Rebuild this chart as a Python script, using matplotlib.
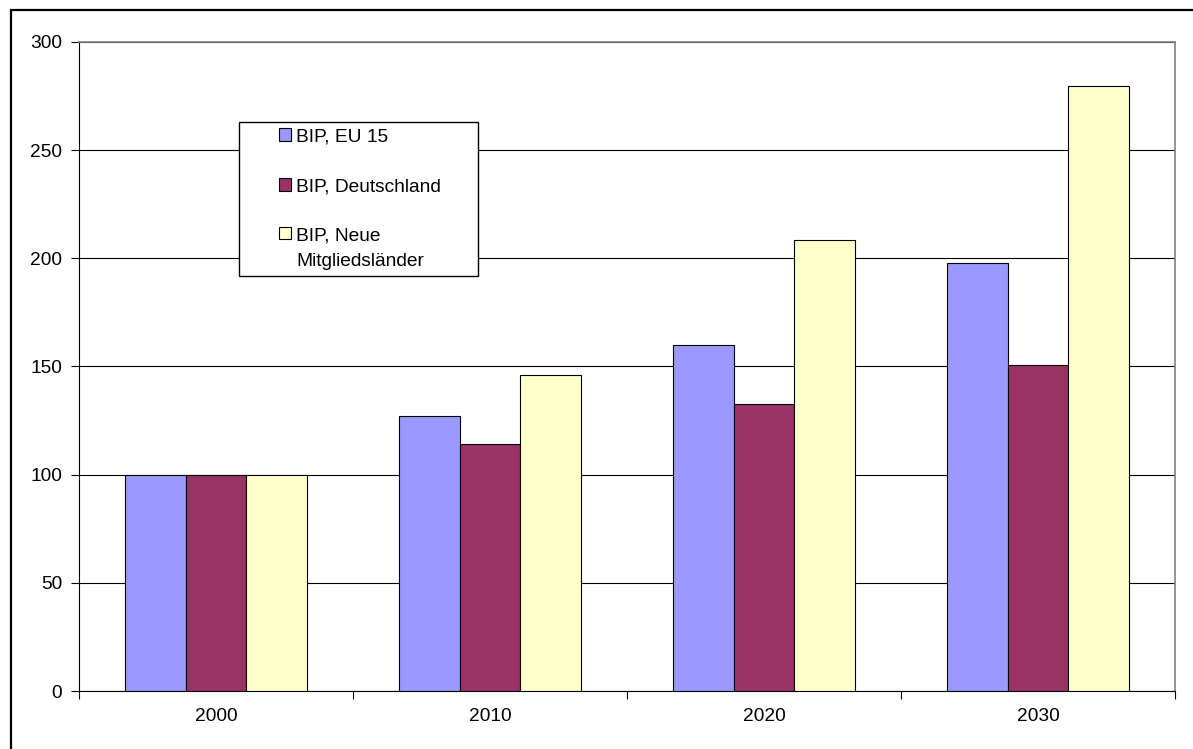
import numpy as np
import matplotlib
matplotlib.use("Agg")
import matplotlib.pyplot as plt
from matplotlib.patches import Rectangle
from matplotlib.legend_handler import HandlerPatch

plt.rcParams['font.family'] = ['Liberation Sans', 'DejaVu Sans']

years = ['2000', '2010', '2020', '2030']
series_names = ['BIP, EU 15', 'BIP, Deutschland', 'BIP, Neue\nMitgliedsländer']
eu15 = [100, 127, 160, 198]
deutschland = [100, 114, 132.5, 150.5]
neue = [100, 146, 208.5, 279.5]
colors = ['#9999FF', '#993366', '#FFFFCC']

FS = 13.8

fig = plt.figure(figsize=(11.93, 7.49), dpi=100)
ax = fig.add_axes([79 / 1193, 58 / 749, (1175 - 79) / 1193, (691 - 42) / 749])

x = np.arange(len(years))
w = 1 / 4.5
bars = []
for i, vals in enumerate([eu15, deutschland, neue]):
    b = ax.bar(x + (i - 1) * w, vals, w, color=colors[i], edgecolor='black',
               linewidth=0.8, zorder=3)
    bars.append(b)

ax.set_xlim(-0.5, len(years) - 0.5)
ax.set_ylim(0, 300)
ax.set_yticks(np.arange(0, 301, 50))
ax.yaxis.grid(True, color='black', linewidth=0.8, zorder=0)

# category boundaries as ticks, labels centred on categories
ax.set_xticks(np.arange(-0.5, len(years)), labels=[''] * (len(years) + 1))
ax.set_xticks(x, labels=years, minor=True)
ax.tick_params(axis='x', which='minor', length=0, pad=12, labelsize=FS)
ax.tick_params(axis='x', which='major', length=6, width=0.8, direction='out')
ax.tick_params(axis='y', length=6, width=0.8, direction='out', pad=6, labelsize=FS)

for s in ['top', 'right']:
    ax.spines[s].set_color('#808080')
    ax.spines[s].set_linewidth(1.2)
ax.spines['left'].set_color('black')
ax.spines['bottom'].set_color('black')


def small_square(legend, orig_handle, xdescent, ydescent, width, height, fontsize):
    s = 12.5 * 0.72
    y0 = -ydescent + (height - s) / 2
    if orig_handle is bars[2].patches[0]:
        y0 += 0.82 * fontsize  # marker sits next to the first line
    return Rectangle((width - xdescent - s, y0), s, s)


leg = ax.legend([b.patches[0] for b in bars], series_names, loc='upper left',
                bbox_to_anchor=(239 / 1193, 1 - 122 / 749 - 0.1, (478 - 239) / 1193, 0.1),
                bbox_transform=fig.transFigure, mode='expand', borderaxespad=0,
                fancybox=False, shadow=False, edgecolor='black', framealpha=1,
                fontsize=FS, labelspacing=1.7, handlelength=2.42, handleheight=0.7,
                handletextpad=0.25, borderpad=0.3,
                handler_map={Rectangle: HandlerPatch(patch_func=small_square)})
leg.get_frame().set_linewidth(1.0)
for t in leg.get_texts():
    t.set_linespacing(1.65)

# outer chart frame
fig.add_artist(Rectangle((11 / 1193, -0.1), 1.2, 1.1 - 10 / 749, transform=fig.transFigure,
                         fill=False, edgecolor='black', linewidth=1.6))

fig.savefig('out.png', dpi=100)
